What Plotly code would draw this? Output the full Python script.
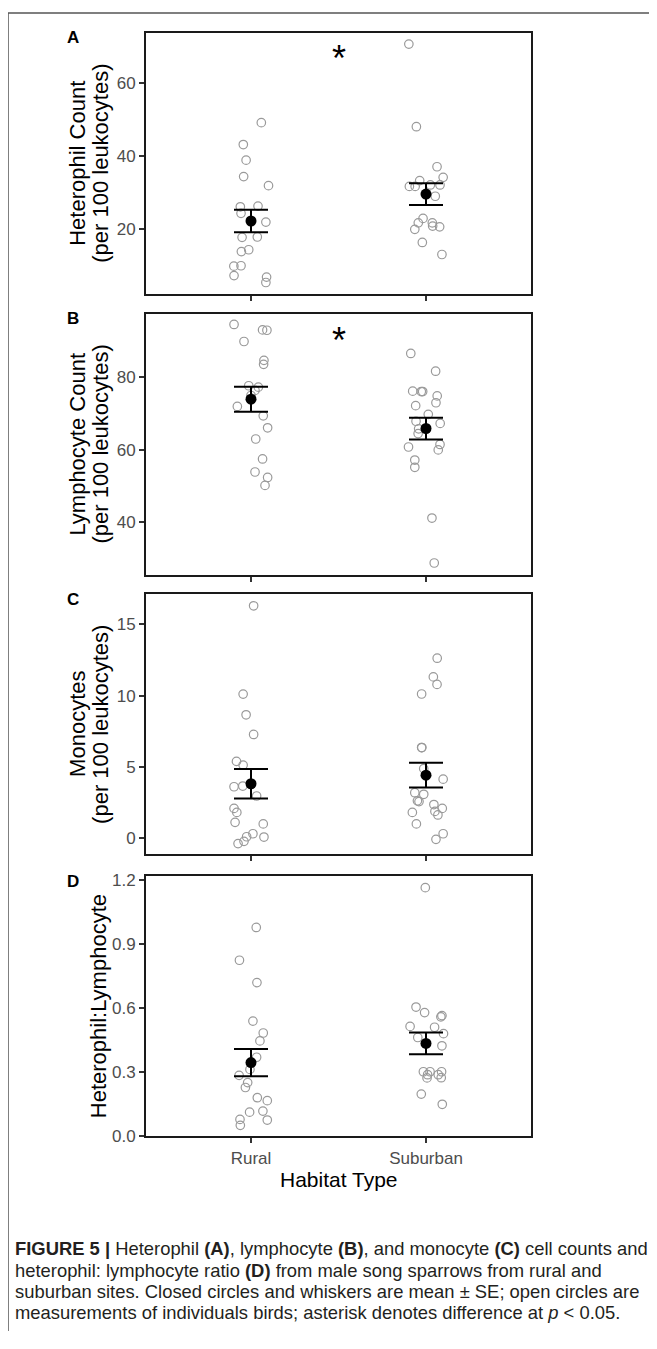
import plotly.graph_objects as go

PAGE_W, PAGE_H = 657, 1349
OFF = 8  # default body margin of the page
W, H = PAGE_W - 2 * OFF, PAGE_H - 2 * OFF

categories = ["Rural", "Suburban"]

# Panel A: Heterophil count
a_rural = [49.1, 43.1, 38.8, 34.3, 31.8, 26.0, 26.2, 24.2, 21.8, 17.6, 17.7, 13.7, 14.2, 9.7, 9.8, 7.1, 6.7, 5.2]
a_rural_jit = [0.059, -0.044, -0.028, -0.042, 0.100, -0.061, 0.040, -0.057, 0.085, -0.051, 0.036, -0.055, -0.013, -0.098, -0.057, -0.097, 0.089, 0.085]
a_sub = [70.7, 48.0, 37.0, 34.1, 33.2, 31.6, 31.6, 32.0, 32.0, 28.9, 22.8, 21.6, 21.6, 19.8, 20.5, 20.7, 16.2, 12.9]
a_sub_jit = [-0.098, -0.055, 0.063, 0.098, -0.036, -0.095, -0.062, 0.025, 0.080, 0.053, -0.017, -0.044, 0.036, -0.064, 0.078, 0.038, -0.021, 0.091]
a_mean = [22.1, 29.5]
a_se = [3.1, 3.0]

# Panel B: Lymphocyte count
b_rural = [94.6, 93.1, 93.0, 89.9, 84.7, 83.6, 77.7, 77.3, 76.4, 75.0, 72.0, 69.4, 66.1, 63.0, 57.5, 53.9, 52.4, 50.2]
b_rural_jit = [-0.097, 0.066, 0.091, -0.040, 0.074, 0.072, -0.013, 0.042, 0.023, 0.0, -0.078, 0.070, 0.095, 0.027, 0.066, 0.023, 0.095, 0.080]
b_sub = [86.6, 81.7, 76.2, 76.1, 76.1, 74.9, 73.0, 72.2, 69.8, 67.9, 67.3, 65.8, 64.5, 61.5, 60.8, 60.0, 57.2, 55.2, 41.2, 28.8]
b_sub_jit = [-0.087, 0.055, -0.076, -0.027, -0.019, 0.064, 0.057, -0.059, 0.013, -0.057, 0.081, -0.042, -0.045, 0.080, -0.100, 0.070, -0.064, -0.064, 0.034, 0.047]
b_mean = [74.0, 65.9]
b_se = [3.45, 3.0]

# Panel C: Monocytes
c_rural = [16.3, 10.1, 8.65, 7.27, 5.38, 5.12, 3.6, 3.65, 2.95, 2.08, 1.8, 1.1, 0.99, 0.30, 0.09, 0.07, -0.23, -0.39]
c_rural_jit = [0.015, -0.045, -0.028, 0.015, -0.083, -0.045, -0.097, -0.047, 0.032, -0.097, -0.081, -0.091, 0.070, 0.011, -0.025, 0.074, -0.040, -0.074]
c_sub = [12.62, 11.31, 10.78, 10.11, 6.35, 6.35, 4.87, 4.13, 3.18, 3.07, 2.61, 2.56, 2.35, 2.08, 1.87, 1.80, 1.62, 0.99, 0.30, -0.09]
c_sub_jit = [0.064, 0.042, 0.063, -0.025, -0.025, -0.024, -0.013, 0.098, -0.064, -0.013, -0.049, -0.040, 0.045, 0.093, 0.051, -0.078, 0.068, -0.055, 0.098, 0.057]
c_mean = [3.81, 4.41]
c_se = [1.03, 0.87]

# Panel D: Heterophil:Lymphocyte ratio
d_rural = [0.979, 0.825, 0.720, 0.539, 0.483, 0.446, 0.369, 0.312, 0.284, 0.250, 0.227, 0.179, 0.165, 0.111, 0.116, 0.077, 0.074, 0.049]
d_rural_jit = [0.030, -0.066, 0.034, 0.011, 0.070, 0.051, 0.032, -0.006, -0.068, -0.019, -0.032, 0.036, 0.093, -0.008, 0.068, -0.063, 0.093, -0.061]
d_sub = [1.166, 0.605, 0.579, 0.559, 0.565, 0.514, 0.510, 0.480, 0.462, 0.423, 0.301, 0.301, 0.301, 0.287, 0.287, 0.272, 0.273, 0.196, 0.148]
d_sub_jit = [-0.004, -0.057, -0.008, 0.085, 0.091, -0.091, 0.049, 0.100, -0.047, 0.091, -0.015, 0.023, 0.089, 0.009, 0.070, 0.006, 0.087, -0.027, 0.093]
d_mean = [0.344, 0.434]
d_se = [0.064, 0.051]

panel_letters = ["A", "B", "C", "D"]
y_titles = [["Heterophil Count", "(per 100 leukocytes)"],
            ["Lymphocyte Count", "(per 100 leukocytes)"],
            ["Monocytes", "(per 100 leukocytes)"],
            ["Heterophil:Lymphocyte"]]
y_ticks = [[20, 40, 60], [40, 60, 80], [0, 5, 10, 15], [0.0, 0.3, 0.6, 0.9, 1.2]]
y_ticktext = [["20", "40", "60"], ["40", "60", "80"], ["0", "5", "10", "15"],
              ["0.0", "0.3", "0.6", "0.9", "1.2"]]
y_ranges = [[2.1, 73.8], [25.6, 97.6], [-1.15, 17.1], [-0.002, 1.22]]
signif = [True, True, False, False]
star_y = [67.2, 90.6, None, None]
x_label = "Habitat Type"

caption_lines = [
    "<b>FIGURE 5 |</b> Heterophil <b>(A)</b>, lymphocyte <b>(B)</b>, and monocyte <b>(C)</b> cell counts and",
    "heterophil: lymphocyte ratio <b>(D)</b> from male song sparrows from rural and",
    "suburban sites. Closed circles and whiskers are mean \u00b1 SE; open circles are",
    "measurements of individuals birds; asterisk denotes difference at <i>p</i> < 0.05.",
]

panels = [
    (a_rural, a_rural_jit, a_sub, a_sub_jit, a_mean, a_se),
    (b_rural, b_rural_jit, b_sub, b_sub_jit, b_mean, b_se),
    (c_rural, c_rural_jit, c_sub, c_sub_jit, c_mean, c_se),
    (d_rural, d_rural_jit, d_sub, d_sub_jit, d_mean, d_se),
]

# pixel layout (page coordinates)
x_left, x_right = 146, 531
panel_px = [(28, 292), (312, 576), (596, 859), (881, 1144)]


def px_x(p):
    return (p - OFF) / W


def px_y(p):
    return 1 - (p - OFF) / H


FONT = "Liberation Sans, Arial, sans-serif"
fig = go.Figure()
layout = dict(
    width=W, height=H, margin=dict(l=0, r=0, t=0, b=0),
    plot_bgcolor="white", paper_bgcolor="white", showlegend=False,
    font=dict(family=FONT),
)
annotations = []
shapes = []

for i, (r, rj, s, sj, mean, se) in enumerate(panels):
    n = i + 1
    xa = "x" if n == 1 else f"x{n}"
    ya = "y" if n == 1 else f"y{n}"
    top, bot = panel_px[i]
    xs = [1 + j for j in rj] + [2 + j for j in sj]
    ys = list(r) + list(s)
    fig.add_trace(go.Scatter(
        x=xs, y=ys, mode="markers", xaxis=xa, yaxis=ya,
        marker=dict(symbol="circle-open", size=8.5, color="#9a9a9a",
                    line=dict(width=1.2, color="#9a9a9a")),
        hoverinfo="skip"))
    fig.add_trace(go.Scatter(
        x=[1, 2], y=mean, mode="markers", xaxis=xa, yaxis=ya,
        marker=dict(symbol="circle", size=11, color="black"),
        error_y=dict(type="data", array=se, visible=True, color="black",
                     thickness=2, width=17),
        hoverinfo="skip"))
    last = (i == 3)
    layout[f"xaxis{'' if n == 1 else n}"] = dict(
        domain=[px_x(x_left), px_x(x_right)], anchor=ya, range=[0.4, 2.6],
        tickvals=[1, 2], ticktext=categories if last else ["", ""],
        showticklabels=last, ticks="outside", ticklen=5, tickwidth=1.5,
        tickcolor="#333333", showline=True, mirror=True, linecolor="#1a1a1a",
        linewidth=2, showgrid=False, zeroline=False,
        tickfont=dict(size=17, color="#4d4d4d", family=FONT),
    )
    layout[f"yaxis{'' if n == 1 else n}"] = dict(
        domain=[px_y(bot), px_y(top)], anchor=xa, range=y_ranges[i],
        tickvals=y_ticks[i], ticktext=y_ticktext[i], ticks="outside",
        ticklen=5, tickwidth=1.5, tickcolor="#333333", showline=True,
        mirror=True, linecolor="#1a1a1a", linewidth=2, showgrid=False,
        zeroline=False, tickfont=dict(size=17, color="#4d4d4d", family=FONT),
    )
    # panel letter
    annotations.append(dict(
        text=f"<b>{panel_letters[i]}</b>", x=px_x(73), y=px_y(top + 5),
        xref="paper", yref="paper", showarrow=False, xanchor="center",
        yanchor="middle", font=dict(size=17, color="black", family=FONT)))
    # y title (one annotation per line)
    lines = y_titles[i]
    xs_lines = [77.5, 100.5] if len(lines) == 2 else [98]
    for txt, xl in zip(lines, xs_lines):
        annotations.append(dict(
            text=txt, x=px_x(xl), y=px_y((top + bot) / 2),
            xref="paper", yref="paper", showarrow=False, textangle=-90,
            xanchor="center", yanchor="middle",
            font=dict(size=22, color="black", family=FONT)))
    if signif[i]:
        annotations.append(dict(
            text="*", x=1.5, y=star_y[i], xref=xa, yref=ya, showarrow=False,
            xanchor="center", yanchor="middle", yshift=-2,
            font=dict(size=36, color="black", family=FONT)))

# x axis title
annotations.append(dict(
    text=x_label, x=px_x((x_left + x_right) / 2), y=px_y(1188),
    xref="paper", yref="paper", showarrow=False, xanchor="center",
    yanchor="middle", font=dict(size=21, color="black", family=FONT)))

# caption
cap_y = [1258, 1279.5, 1301, 1322.5]
for line, yy in zip(caption_lines, cap_y):
    annotations.append(dict(
        text=line, x=px_x(13), y=px_y(yy), xref="paper", yref="paper",
        showarrow=False, xanchor="left", yanchor="middle",
        font=dict(size=18.4, color="#231f20", family=FONT)))

# page frame lines
shapes.append(dict(type="line", xref="paper", yref="paper",
                   x0=0, x1=1, y0=1, y1=1,
                   line=dict(color="#555555", width=1.5)))
shapes.append(dict(type="line", xref="paper", yref="paper",
                   x0=0, x1=0, y0=1, y1=0,
                   line=dict(color="#555555", width=1.5)))

layout["annotations"] = annotations
layout["shapes"] = shapes
fig.update_layout(**layout)
fig.write_html("out.html")
